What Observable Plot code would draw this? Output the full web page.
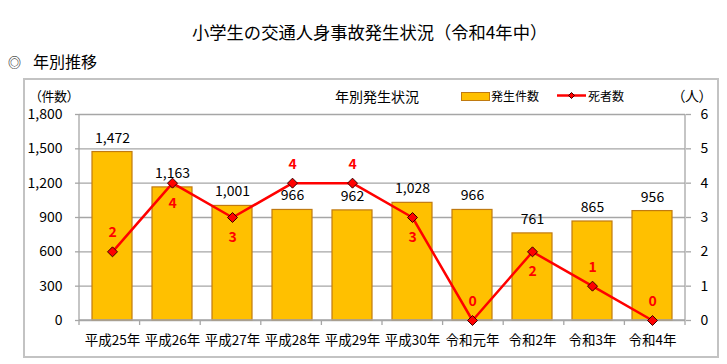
<!DOCTYPE html>
<html><head><meta charset="utf-8">
<script src="https://cdn.jsdelivr.net/npm/d3@7"></script>
<script src="https://cdn.jsdelivr.net/npm/@observablehq/plot@0.6"></script>
<style>
body{margin:0;background:#fff;font-family:"Noto Sans CJK JP","Noto Sans",sans-serif;color:#000;}
#wrap{position:relative;width:727px;height:364px;overflow:hidden;}
.t{position:absolute;white-space:nowrap;line-height:1;font-feature-settings:"palt";transform:translate(-50%,-50%);}
.l{transform:translate(0,-50%);}
.np{font-feature-settings:normal;}
#box{position:absolute;left:23px;top:78px;width:696px;height:280px;border:2px solid #c3c3c3;box-sizing:border-box;}
#chart{position:absolute;left:0;top:79px;}
#chart svg{overflow:visible;}
</style></head><body>
<div id="wrap">
  <div id="box"></div>
  <div class="t np l" style="left:192px;top:32px;font-size:17.3px;">小学生の交通人身事故発生状況（令和4年中）</div>
  <div class="t l" style="left:8px;top:61px;font-size:13px;">◎</div>
  <div class="t l" style="left:33px;top:61px;font-size:16px;">年別推移</div>
  <div class="t l np" style="left:29px;top:95px;font-size:13px;letter-spacing:-0.5px;">（件数）</div>
  <div class="t" style="left:377px;top:96px;font-size:14px;">年別発生状況</div>
  <div style="position:absolute;left:461px;top:92px;width:27px;height:7px;background:#FFC000;border:1px solid #c07a10;"></div>
  <div class="t l" style="left:491px;top:96px;font-size:12px;">発生件数</div>
  <svg style="position:absolute;left:556px;top:90px;" width="31" height="11"><line x1="1" x2="30" y1="5.5" y2="5.5" stroke="#ff0000" stroke-width="2.5"/><path d="M15.5,2.5L18.5,5.5L15.5,8.5L12.5,5.5Z" fill="#ff0000" stroke="#3a0000" stroke-width="1"/></svg>
  <div class="t l" style="left:588px;top:96px;font-size:12px;">死者数</div>
  <div class="t l" style="left:678px;top:95px;font-size:14px;">（人）</div>
  <div id="chart"></div>
</div>
<script>
const years = ["平成25年","平成26年","平成27年","平成28年","平成29年","平成30年","令和元年","令和2年","令和3年","令和4年"];
const counts = [1472,1163,1001,966,962,1028,966,761,865,956];
const deaths = [2,4,3,4,4,3,0,2,1,0];
const leftTicks = [0,300,600,900,1200,1500,1800];
const rightTicks = [0,1,2,3,4,5,6];
const deathLabelBelow = ["平成26年","平成27年","平成30年","令和2年"];

const ratio = leftTicks[leftTicks.length-1] / rightTicks[rightTicks.length-1];
const data = years.map((y,i)=>({year:y, count:counts[i], death:deaths[i], dy: deaths[i]*ratio}));
const fmt = d3.format(",");
const axisCol = "#a6a6a6";

function axisLines(index, scales, values, dims) {
  const {width, height, marginLeft, marginRight, marginTop, marginBottom} = dims;
  const x0 = marginLeft, x1 = width - marginRight, y0 = marginTop, y1 = height - marginBottom;
  const g = d3.create("svg:g").attr("stroke", axisCol).attr("stroke-width", 1.3).attr("fill","none");
  g.append("line").attr("x1",x0).attr("x2",x0).attr("y1",y0).attr("y2",y1);
  g.append("line").attr("x1",x1).attr("x2",x1).attr("y1",y0).attr("y2",y1);
  g.append("line").attr("x1",x0).attr("x2",x1).attr("y1",y1).attr("y2",y1);
  const step = (x1 - x0) / years.length;
  for (let i = 0; i <= years.length; i++) {
    const x = x0 + i*step;
    g.append("line").attr("x1",x).attr("x2",x).attr("y1",y1).attr("y2",y1+5);
  }
  return g.node();
}

const chart = Plot.plot({
  width: 727,
  height: 278,
  marginLeft: 79,
  marginRight: 42,
  marginTop: 35,
  marginBottom: 37,
  style: {fontFamily: '"Noto Sans CJK JP","Noto Sans",sans-serif', background: "transparent", overflow: "visible"},
  x: {domain: years, paddingInner: 0.34, paddingOuter: 0.17, label: null},
  y: {domain: [0, leftTicks[leftTicks.length-1]], label: null},
  marks: [
    Plot.gridY(leftTicks, {stroke: axisCol, strokeOpacity: 1, strokeWidth: 1.3}),
    Plot.axisY(leftTicks, {anchor: "left", tickFormat: fmt, tickSize: 4, tickPadding: 13, fontSize: 14, stroke: axisCol, strokeWidth: 1.3, fill: "#000", label: null}),
    Plot.axisY(leftTicks, {anchor: "right", tickFormat: (d) => String(rightTicks[leftTicks.indexOf(d)]), tickSize: 5, tickPadding: 10, fontSize: 14, stroke: axisCol, strokeWidth: 1.3, fill: "#000", label: null}),
    Plot.barY(data, {x: "year", y: "count", fill: "#FFC000", stroke: "#c07a10", strokeWidth: 1.2}),
    axisLines,
    Plot.axisX({tickSize: 0, tickPadding: 15, fontSize: 13.5, fill: "#000", label: null}),
    Plot.text(data, {x: "year", y: "count", text: d => fmt(d.count), dy: -14, fontSize: 14, fill: "#000"}),
    Plot.line(data, {x: "year", y: "dy", stroke: "#ff0000", strokeWidth: 2.5}),
    Plot.dot(data, {x: "year", y: "dy", symbol: "diamond2", r: 4.5, fill: "#ff0000", stroke: "#3a0000", strokeWidth: 1}),
    Plot.text(data.filter(d => !deathLabelBelow.includes(d.year)), {x: "year", y: "dy", text: d => String(d.death), dy: -19, fontSize: 14, fontWeight: "bold", fill: "#ff0000"}),
    Plot.text(data.filter(d => deathLabelBelow.includes(d.year)), {x: "year", y: "dy", text: d => String(d.death), dy: 20, fontSize: 14, fontWeight: "bold", fill: "#ff0000"})
  ]
});
document.getElementById("chart").appendChild(chart);
</script>
</body></html>
